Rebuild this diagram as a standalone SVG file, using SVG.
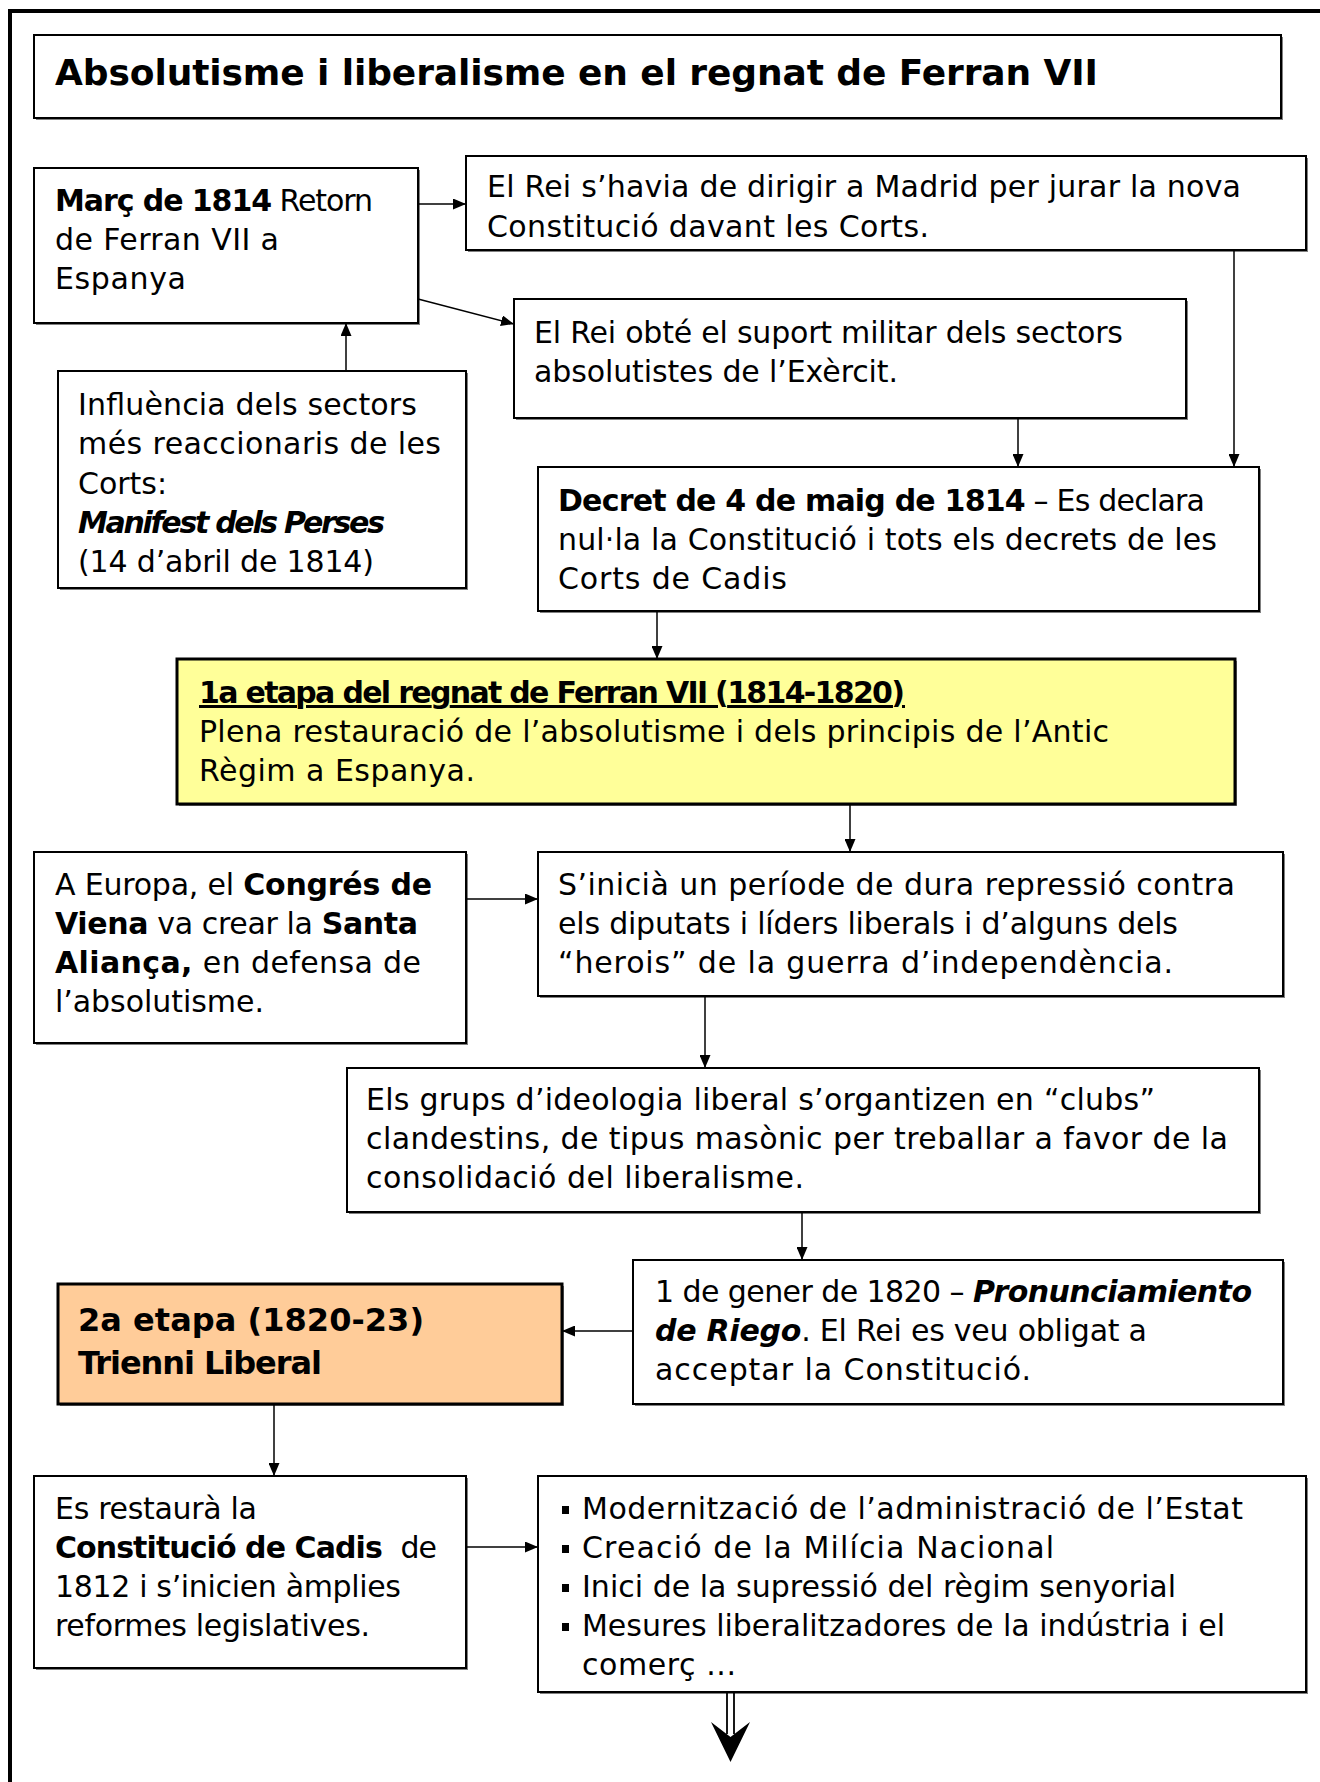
<svg xmlns="http://www.w3.org/2000/svg" width="1320" height="1782" viewBox="0 0 1320 1782">
<defs>
<style>
.box{fill:#fff;stroke:#000;stroke-width:2}
.sh{fill:#808080}
.yel{fill:#ffff99;stroke:#000;stroke-width:3}
.ora{fill:#ffcc99;stroke:#000;stroke-width:3}
.t{font-family:'DejaVu Sans','Liberation Sans',sans-serif;font-size:30px;fill:#000}
.b{font-weight:bold}
.i{font-style:italic}
.c{stroke:#000;stroke-width:1.5;fill:none;marker-end:url(#ah)}
.bul{fill:#000}
</style>
<marker id="ah" markerUnits="userSpaceOnUse" markerWidth="13" markerHeight="11" refX="13" refY="5.5" orient="auto">
<path d="M0,0 L13,5.5 L0,11 z" fill="#000"/>
</marker>
</defs>
<rect width="1320" height="1782" fill="#fff"/>
<path d="M10,1790 V11 H1330" fill="none" stroke="#000" stroke-width="4"/>

<g id="title">
<rect class="sh" x="36" y="37" width="1247" height="83"/>
<rect class="box" x="34" y="35" width="1247" height="83"/>
<text class="t b" x="55" y="85" style="font-size:36px" textLength="1043">Absolutisme i liberalisme en el regnat de Ferran VII</text>
</g>

<g id="n1">
<rect class="sh" x="36" y="170" width="384" height="155"/>
<rect class="box" x="34" y="168" width="384" height="155"/>
<text class="t" x="55" y="211" textLength="318"><tspan class="b">Març de 1814</tspan> Retorn</text>
<text class="t" x="55" y="250" textLength="224">de Ferran VII a</text>
<text class="t" x="55" y="289" textLength="131">Espanya</text>
</g>

<g id="n2">
<rect class="sh" x="468" y="158" width="840" height="94"/>
<rect class="box" x="466" y="156" width="840" height="94"/>
<text class="t" x="487" y="197" textLength="754">El Rei s’havia de dirigir a Madrid per jurar la nova</text>
<text class="t" x="487" y="236.5" textLength="442">Constitució davant les Corts.</text>
</g>

<g id="n3">
<rect class="sh" x="516" y="301" width="672" height="119"/>
<rect class="box" x="514" y="299" width="672" height="119"/>
<text class="t" x="534" y="343" textLength="589">El Rei obté el suport militar dels sectors</text>
<text class="t" x="534" y="382" textLength="364">absolutistes de l’Exèrcit.</text>
</g>

<g id="n4">
<rect class="sh" x="60" y="373" width="408" height="217"/>
<rect class="box" x="58" y="371" width="408" height="217"/>
<text class="t" x="78" y="415" textLength="339">Influència dels sectors</text>
<text class="t" x="78" y="454" textLength="363">més reaccionaris de les</text>
<text class="t" x="78" y="493.5" textLength="89">Corts:</text>
<text class="t b i" x="78" y="532.5" textLength="307">Manifest dels Perses</text>
<text class="t" x="78" y="572" textLength="296">(14 d’abril de 1814)</text>
</g>

<g id="n5">
<rect class="sh" x="540" y="469" width="721" height="144"/>
<rect class="box" x="538" y="467" width="721" height="144"/>
<text class="t" x="558" y="511" textLength="647"><tspan class="b">Decret de 4 de maig de 1814</tspan> – Es declara</text>
<text class="t" x="558" y="550" textLength="659">nul·la la Constitució i tots els decrets de les</text>
<text class="t" x="558" y="589" textLength="229">Corts de Cadis</text>
</g>

<g id="n6">
<rect class="sh" x="179" y="661" width="1058" height="145"/>
<rect class="yel" x="177" y="659" width="1058" height="145"/>
<text class="t b" x="199" y="703" textLength="706" text-decoration="underline">1a etapa del regnat de Ferran VII (1814-1820)</text>
<text class="t" x="199" y="742" textLength="910">Plena restauració de l’absolutisme i dels principis de l’Antic</text>
<text class="t" x="199" y="781" textLength="276">Règim a Espanya.</text>
</g>

<g id="n7">
<rect class="sh" x="36" y="854" width="432" height="191"/>
<rect class="box" x="34" y="852" width="432" height="191"/>
<text class="t" x="55" y="895" textLength="377">A Europa, el <tspan class="b">Congrés de</tspan></text>
<text class="t" x="55" y="934" textLength="363"><tspan class="b">Viena</tspan> va crear la <tspan class="b">Santa</tspan></text>
<text class="t" x="55" y="973" textLength="366"><tspan class="b">Aliança,</tspan> en defensa de</text>
<text class="t" x="55" y="1012" textLength="209">l’absolutisme.</text>
</g>

<g id="n8">
<rect class="sh" x="540" y="854" width="745" height="144"/>
<rect class="box" x="538" y="852" width="745" height="144"/>
<text class="t" x="558" y="895" textLength="677">S’inicià un període de dura repressió contra</text>
<text class="t" x="558" y="934" textLength="620">els diputats i líders liberals i d’alguns dels</text>
<text class="t" x="558" y="973" textLength="615">“herois” de la guerra d’independència.</text>
</g>

<g id="n9">
<rect class="sh" x="349" y="1070" width="912" height="144"/>
<rect class="box" x="347" y="1068" width="912" height="144"/>
<text class="t" x="366" y="1110" textLength="789">Els grups d’ideologia liberal s’organtizen en “clubs”</text>
<text class="t" x="366" y="1149" textLength="862">clandestins, de tipus masònic per treballar a favor de la</text>
<text class="t" x="366" y="1188" textLength="438">consolidació del liberalisme.</text>
</g>

<g id="n10">
<rect class="sh" x="635" y="1262" width="650" height="144"/>
<rect class="box" x="633" y="1260" width="650" height="144"/>
<text class="t" x="655" y="1302" textLength="597">1 de gener de 1820 – <tspan class="b i">Pronunciamiento</tspan></text>
<text class="t" x="655" y="1341" textLength="492"><tspan class="b i">de Riego</tspan>. El Rei es veu obligat a</text>
<text class="t" x="655" y="1380" textLength="376">acceptar la Constitució.</text>
</g>

<g id="n11">
<rect class="sh" x="60" y="1286" width="504" height="120"/>
<rect class="ora" x="58" y="1284" width="504" height="120"/>
<text class="t b" x="78" y="1331" style="font-size:32px" textLength="346">2a etapa (1820-23)</text>
<text class="t b" x="78" y="1374" style="font-size:32px" textLength="244">Trienni Liberal</text>
</g>

<g id="n12">
<rect class="sh" x="36" y="1478" width="432" height="192"/>
<rect class="box" x="34" y="1476" width="432" height="192"/>
<text class="t" x="55" y="1519" textLength="202">Es restaurà la</text>
<text class="t" x="55" y="1558" textLength="382"><tspan class="b">Constitució de Cadis</tspan><tspan dx="10"> de</tspan></text>
<text class="t" x="55" y="1597" textLength="346">1812 i s’inicien àmplies</text>
<text class="t" x="55" y="1636" textLength="315">reformes legislatives.</text>
</g>

<g id="n13">
<rect class="sh" x="540" y="1478" width="768" height="216"/>
<rect class="box" x="538" y="1476" width="768" height="216"/>
<rect class="bul" x="562" y="1506" width="7" height="8"/>
<rect class="bul" x="562" y="1545" width="7" height="8"/>
<rect class="bul" x="562" y="1584" width="7" height="8"/>
<rect class="bul" x="562" y="1623" width="7" height="8"/>
<text class="t" x="582" y="1519" textLength="661">Modernització de l’administració de l’Estat</text>
<text class="t" x="582" y="1558" textLength="472">Creació de la Milícia Nacional</text>
<text class="t" x="582" y="1597" textLength="594">Inici de la supressió del règim senyorial</text>
<text class="t" x="582" y="1636" textLength="643">Mesures liberalitzadores de la indústria i el</text>
<text class="t" x="582" y="1675" textLength="154">comerç ...</text>
</g>

<g id="connectors">
<path class="c" d="M418,204 H466"/>
<path class="c" d="M418,299 L514,324"/>
<path class="c" d="M346,371 V323"/>
<path class="c" d="M1234,250 V467"/>
<path class="c" d="M1018,418 V467"/>
<path class="c" d="M657,611 V659"/>
<path class="c" d="M850,804 V852"/>
<path class="c" d="M466,899 H538"/>
<path class="c" d="M705,996 V1068"/>
<path class="c" d="M802,1212 V1260"/>
<path class="c" d="M633,1331 H562"/>
<path class="c" d="M274,1404 V1476"/>
<path class="c" d="M466,1547 H538"/>
<g id="double-arrow">
<path d="M727,1692 V1734 M734,1692 V1734" stroke="#000" stroke-width="1.8" fill="none"/>
<path d="M711,1722 L730.5,1762 L750,1722 L730.5,1737 z" fill="#000"/>
</g>
</g>
</svg>
